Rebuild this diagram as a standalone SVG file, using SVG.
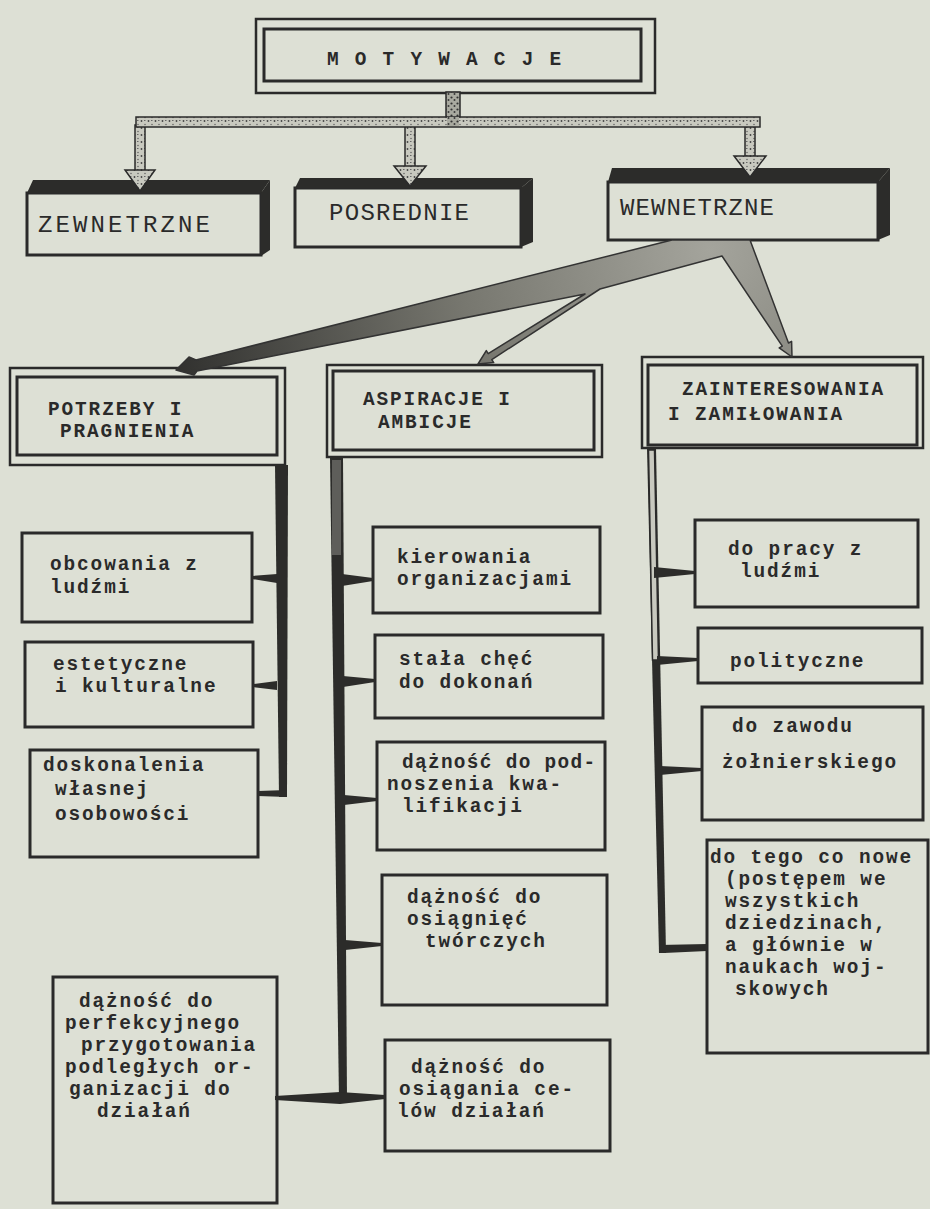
<svg xmlns="http://www.w3.org/2000/svg" width="930" height="1209" viewBox="0 0 930 1209">
<defs>
<style>
.bg{fill:#dde0d5}
.box{fill:#dde0d5;stroke:#2a2a2a;stroke-width:3}
.outer{fill:#dde0d5;stroke:#2a2a2a;stroke-width:2.5}
.inner{fill:none;stroke:#2a2a2a;stroke-width:3}
.dark{fill:#2c2c2a}
.t{font-family:"Liberation Mono","Courier New",monospace;font-weight:bold;font-size:19.4px;letter-spacing:1.9px;fill:#2a2a2a}
.h{font-family:"Liberation Mono","Courier New",monospace;font-size:24px;fill:#2a2a2a}
.ink{fill:#2c2c2a}
.tex{fill:url(#stip);stroke:#2a2a2a;stroke-width:1.5}
</style>
<pattern id="stip" width="7" height="7" patternUnits="userSpaceOnUse">
<rect width="7" height="7" fill="#c8c9bf"/>
<circle cx="1.5" cy="2" r="0.9" fill="#444"/>
<circle cx="5" cy="5.5" r="0.7" fill="#555"/>
<rect x="4" y="1" width="1.5" height="1" fill="#666"/>
</pattern>
<pattern id="stip2" width="6" height="6" patternUnits="userSpaceOnUse">
<rect width="6" height="6" fill="#a9aaa0"/>
<circle cx="1.5" cy="1.5" r="1.1" fill="#333"/>
<circle cx="4.5" cy="4" r="1" fill="#3a3a3a"/>
</pattern>
<radialGradient id="wedge" cx="710" cy="250" r="560" gradientUnits="userSpaceOnUse">
<stop offset="0" stop-color="#a4a49c"/>
<stop offset="0.45" stop-color="#77776f"/>
<stop offset="1" stop-color="#2e2e2c"/>
</radialGradient>
</defs>
<rect class="bg" x="0" y="0" width="930" height="1209"/>

<g id="motywacje">
<rect class="outer" x="256" y="19" width="399" height="74"/>
<rect class="inner" x="264" y="29" width="377" height="52" stroke-width="4"/>
<text class="t" x="327" y="65" font-size="24" textLength="236" lengthAdjust="spacing">M O T Y W A C J E</text>
</g>

<g id="zewnetrzne">
<rect class="box" x="27" y="193" width="234" height="62" stroke-width="2.5"/>
<polygon class="dark" points="27,193 33,180 270,180 261,193"/>
<polygon class="dark" points="261,193 270,180 270,250 261,256"/>
<text class="h" x="38" y="232" textLength="172" lengthAdjust="spacing">ZEWNETRZNE</text>
</g>

<g id="posrednie">
<rect class="box" x="295" y="188" width="226" height="59" stroke-width="2.5"/>
<polygon class="dark" points="295,188 300,178 533,178 521,188"/>
<polygon class="dark" points="521,188 533,178 533,242 521,247"/>
<text class="h" x="329" y="220" textLength="140" lengthAdjust="spacing">POSREDNIE</text>
</g>

<g id="wewnetrzne">
<rect class="box" x="608" y="182" width="270" height="58" stroke-width="2.5"/>
<polygon class="dark" points="608,182 612,168 890,168 878,182"/>
<polygon class="dark" points="878,182 890,168 890,235 878,240"/>
<text class="h" x="620" y="215" textLength="154" lengthAdjust="spacing">WEWNETRZNE</text>
</g>

<g id="potrzeby">
<rect class="outer" x="10" y="368" width="275" height="97"/>
<rect class="inner" x="17" y="377" width="260" height="78"/>
<text class="t" x="48" y="415">POTRZEBY I</text>
<text class="t" x="60" y="437">PRAGNIENIA</text>
</g>

<g id="aspiracje">
<rect class="outer" x="327" y="365" width="275" height="92"/>
<rect class="inner" x="333" y="371" width="261" height="79"/>
<text class="t" x="363" y="405">ASPIRACJE I</text>
<text class="t" x="378" y="428">AMBICJE</text>
</g>

<g id="zainteresowania">
<rect class="outer" x="642" y="357" width="281" height="91"/>
<rect class="inner" x="648" y="365" width="269" height="80"/>
<text class="t" x="682" y="395">ZAINTERESOWANIA</text>
<text class="t" x="668" y="420">I ZAMIŁOWANIA</text>
</g>

<g id="obcowania">
<rect class="box" x="22" y="533" width="230" height="89"/>
<text class="t" x="50" y="570">obcowania z</text>
<text class="t" x="50" y="593">ludźmi</text>
</g>

<g id="estetyczne">
<rect class="box" x="25" y="642" width="228" height="85"/>
<text class="t" x="53" y="670">estetyczne</text>
<text class="t" x="55" y="692">i kulturalne</text>
</g>

<g id="doskonalenia">
<rect class="box" x="30" y="750" width="228" height="107"/>
<text class="t" x="43" y="771">doskonalenia</text>
<text class="t" x="55" y="795">własnej</text>
<text class="t" x="55" y="820">osobowości</text>
</g>

<g id="kierowania">
<rect class="box" x="373" y="527" width="227" height="86"/>
<text class="t" x="397" y="563">kierowania</text>
<text class="t" x="397" y="585">organizacjami</text>
</g>

<g id="stala">
<rect class="box" x="375" y="635" width="228" height="83"/>
<text class="t" x="399" y="665">stała chęć</text>
<text class="t" x="399" y="688">do dokonań</text>
</g>

<g id="kwalifikacje">
<rect class="box" x="377" y="742" width="228" height="108"/>
<text class="t" x="402" y="768" textLength="195" lengthAdjust="spacing">dążność do pod-</text>
<text class="t" x="387" y="790">noszenia kwa-</text>
<text class="t" x="402" y="812">lifikacji</text>
</g>

<g id="tworcze">
<rect class="box" x="382" y="875" width="225" height="130"/>
<text class="t" x="407" y="903">dążność do</text>
<text class="t" x="407" y="925">osiągnięć</text>
<text class="t" x="425" y="947">twórczych</text>
</g>

<g id="cele">
<rect class="box" x="385" y="1040" width="225" height="111"/>
<text class="t" x="411" y="1073">dążność do</text>
<text class="t" x="399" y="1095">osiągania ce-</text>
<text class="t" x="397" y="1117">lów działań</text>
</g>

<g id="perfekcja">
<rect class="box" x="53" y="977" width="224" height="226"/>
<text class="t" x="79" y="1007">dążność do</text>
<text class="t" x="65" y="1029">perfekcyjnego</text>
<text class="t" x="81" y="1051">przygotowania</text>
<text class="t" x="65" y="1073">podległych or-</text>
<text class="t" x="69" y="1095">ganizacji do</text>
<text class="t" x="97" y="1117">działań</text>
</g>

<g id="praca">
<rect class="box" x="695" y="520" width="223" height="87"/>
<text class="t" x="728" y="555">do pracy z</text>
<text class="t" x="740" y="577">ludźmi</text>
</g>

<g id="polityczne">
<rect class="box" x="698" y="628" width="224" height="55"/>
<text class="t" x="730" y="667">polityczne</text>
</g>

<g id="zawod">
<rect class="box" x="702" y="707" width="221" height="113"/>
<text class="t" x="732" y="732">do zawodu</text>
<text class="t" x="722" y="768">żołnierskiego</text>
</g>

<g id="nowe">
<rect class="box" x="707" y="840" width="221" height="213"/>
<text class="t" x="710" y="863">do tego co nowe</text>
<text class="t" x="725" y="885">(postępem we</text>
<text class="t" x="725" y="907">wszystkich</text>
<text class="t" x="725" y="929">dziedzinach,</text>
<text class="t" x="725" y="951">a głównie w</text>
<text class="t" x="725" y="973">naukach woj-</text>
<text class="t" x="735" y="995">skowych</text>
</g>

<g id="connectors">
<rect x="446" y="92" width="14" height="27" fill="url(#stip2)" stroke="#2a2a2a" stroke-width="1.5"/>
<rect class="tex" x="135" y="125" width="10" height="46"/>
<polygon class="tex" points="125,170 155,170 140,191"/>
<rect class="tex" x="405" y="125" width="10" height="42"/>
<polygon class="tex" points="394,166 426,166 410,186"/>
<rect class="tex" x="745" y="125" width="10" height="32"/>
<polygon class="tex" points="734,156 766,156 750,177"/>
<rect class="tex" x="136" y="117" width="624" height="10" stroke-width="2"/>
<rect x="447" y="117" width="12" height="9" fill="url(#stip2)"/>

<polygon fill="url(#wedge)" stroke="#333" stroke-width="1.5" stroke-linejoin="round" points="672,240 750,240 788.5,343 791.6,341.3 792,357 779.2,347.9 782.3,346.2 722,256 600,289 491.8,359.6 493.7,362.6 478,364 486.3,350.6 488.2,353.6 585,294 197,371 194,375 176,370 189,357 196,360"/>

<polygon class="ink" points="275,465 288,465 287,797 279,797"/>
<polygon class="ink" points="277,574 277,583 252,579 252,576"/>
<polygon class="ink" points="277,681 277,690 253,687 253,684"/>
<polygon class="ink" points="287,790 287,797 258,796 258,791"/>

<polygon class="ink" points="330,457 343,457 347,1101 339,1101"/>
<rect x="332" y="460" width="9" height="95" fill="#5e5e5a"/>
<polygon class="ink" points="342,574 342,586 373,581 373,578"/>
<polygon class="ink" points="343,676 343,687 375,682 375,679"/>
<polygon class="ink" points="344,795 344,805 377,801 377,798"/>
<polygon class="ink" points="345,940 345,950 382,946 382,943"/>
<polygon class="ink" points="275,1096 340,1092 385,1095 385,1099 340,1104 275,1100"/>

<polygon class="ink" points="647,448 656,448 666,953 659,953"/>
<polygon fill="#c8c9bf" stroke="#2a2a2a" stroke-width="1.5" points="648.5,450 654.5,450 658.5,660 652.5,660"/>
<polygon class="ink" points="654,567 654,578 695,574 695,571"/>
<polygon class="ink" points="657,656 657,665 698,661 698,658"/>
<polygon class="ink" points="660,766 660,775 702,771 702,768"/>
<polygon class="ink" points="659,945 707,944 707,951 664,953"/>
</g>
</svg>
